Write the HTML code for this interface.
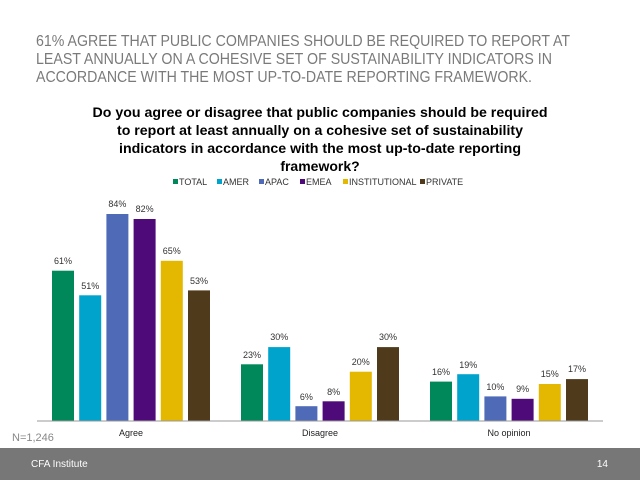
<!DOCTYPE html>
<html><head><meta charset="utf-8"><style>body{margin:0}svg{display:block}</style></head><body>
<svg width="640" height="480" xmlns="http://www.w3.org/2000/svg" font-family="Liberation Sans, sans-serif">
<rect width="640" height="480" fill="#fff"/>
<g fill="#7a7a7a" font-size="16">
<text x="36" y="46" textLength="534" lengthAdjust="spacingAndGlyphs">61% AGREE THAT PUBLIC COMPANIES SHOULD BE REQUIRED TO REPORT AT</text>
<text x="36" y="64" textLength="516" lengthAdjust="spacingAndGlyphs">LEAST ANNUALLY ON A COHESIVE SET OF SUSTAINABILITY INDICATORS IN</text>
<text x="36" y="82" textLength="496" lengthAdjust="spacingAndGlyphs">ACCORDANCE WITH THE MOST UP-TO-DATE REPORTING FRAMEWORK.</text>
</g>
<g font-size="14" font-weight="bold" fill="#000" text-anchor="middle">
<text x="320" y="117" textLength="455" lengthAdjust="spacingAndGlyphs">Do you agree or disagree that public companies should be required</text>
<text x="320" y="135" textLength="406" lengthAdjust="spacingAndGlyphs">to report at least annually on a cohesive set of sustainability</text>
<text x="320" y="153" textLength="402" lengthAdjust="spacingAndGlyphs">indicators in accordance with the most up-to-date reporting</text>
<text x="320" y="171">framework?</text>
</g>
<g font-size="9" fill="#333">
<rect x="173" y="179" width="5" height="5" fill="#00875a"/><text x="179" y="185">TOTAL</text>
<rect x="217" y="179" width="5" height="5" fill="#00a3cc"/><text x="223" y="185">AMER</text>
<rect x="259" y="179" width="5" height="5" fill="#4f6bb8"/><text x="265" y="185">APAC</text>
<rect x="300" y="179" width="5" height="5" fill="#4e0a78"/><text x="306" y="185">EMEA</text>
<rect x="343" y="179" width="5" height="5" fill="#e4b800"/><text x="349" y="185">INSTITUTIONAL</text>
<rect x="420" y="179" width="5" height="5" fill="#4f3b1c"/><text x="426" y="185">PRIVATE</text>
</g>
<g>
<rect x="52" y="270.7" width="22" height="150.3" fill="#00875a"/>
<rect x="79.2" y="295.3" width="22" height="125.7" fill="#00a3cc"/>
<rect x="106.4" y="214" width="22" height="207" fill="#4f6bb8"/>
<rect x="133.6" y="219" width="22" height="202" fill="#4e0a78"/>
<rect x="160.8" y="260.8" width="22" height="160.2" fill="#e4b800"/>
<rect x="188" y="290.4" width="22" height="130.6" fill="#4f3b1c"/>
<rect x="241" y="364.3" width="22" height="56.7" fill="#00875a"/>
<rect x="268.2" y="347.1" width="22" height="73.9" fill="#00a3cc"/>
<rect x="295.4" y="406.2" width="22" height="14.8" fill="#4f6bb8"/>
<rect x="322.6" y="401.3" width="22" height="19.7" fill="#4e0a78"/>
<rect x="349.8" y="371.7" width="22" height="49.3" fill="#e4b800"/>
<rect x="377" y="347.1" width="22" height="73.9" fill="#4f3b1c"/>
<rect x="430" y="381.6" width="22" height="39.4" fill="#00875a"/>
<rect x="457.2" y="374.2" width="22" height="46.8" fill="#00a3cc"/>
<rect x="484.4" y="396.4" width="22" height="24.6" fill="#4f6bb8"/>
<rect x="511.6" y="398.8" width="22" height="22.2" fill="#4e0a78"/>
<rect x="538.8" y="384" width="22" height="37" fill="#e4b800"/>
<rect x="566" y="379.1" width="22" height="41.9" fill="#4f3b1c"/>
</g>
<g font-size="9" fill="#333" text-anchor="middle">
<text x="63" y="264">61%</text><text x="90.2" y="289">51%</text><text x="117.4" y="207">84%</text><text x="144.6" y="212">82%</text><text x="171.8" y="254">65%</text><text x="199" y="284">53%</text>
<text x="252" y="358">23%</text><text x="279.2" y="340">30%</text><text x="306.4" y="400">6%</text><text x="333.6" y="395">8%</text><text x="360.8" y="365">20%</text><text x="388" y="340">30%</text>
<text x="441" y="375">16%</text><text x="468.2" y="368">19%</text><text x="495.4" y="390">10%</text><text x="522.6" y="392">9%</text><text x="549.8" y="377">15%</text><text x="577" y="372">17%</text>
</g>
<line x1="37" y1="421" x2="603" y2="421" stroke="#999" stroke-width="1"/>
<g font-size="9" fill="#222" text-anchor="middle">
<text x="131" y="436">Agree</text><text x="320" y="436">Disagree</text><text x="509" y="436">No opinion</text>
</g>
<text x="12" y="441" font-size="11" fill="#888">N=1,246</text>
<rect x="0" y="448" width="640" height="32" fill="#777"/>
<text x="31" y="467" font-size="10" fill="#fff">CFA Institute</text>
<text x="608" y="467" font-size="10" fill="#fff" text-anchor="end">14</text>
</svg>
</body></html>
